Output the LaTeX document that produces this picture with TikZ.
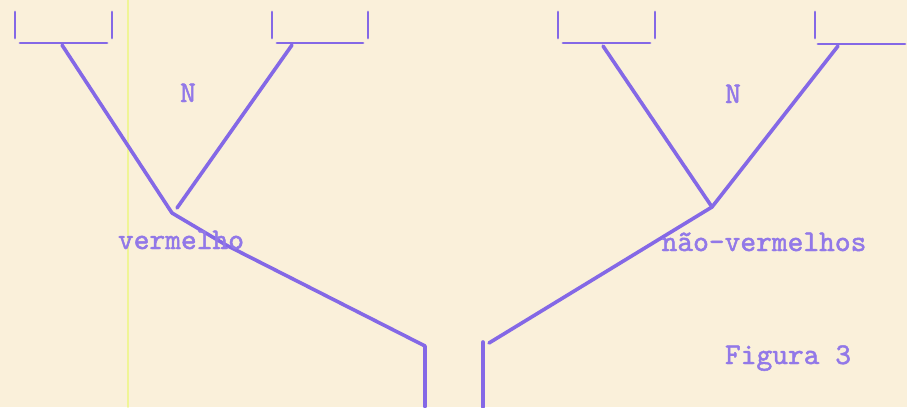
\documentclass[tikz,border=0pt]{standalone}
\usepackage{fontspec}
\newfontfamily\maquina[FakeBold=1.6]{lmmono10-regular.otf}
\usepackage{tikz}
\usetikzlibrary{positioning}
\definecolor{papel}{RGB}{250,240,218}
\definecolor{tinta}{RGB}{132,104,230}
\definecolor{tintaclara}{RGB}{146,120,232}
\definecolor{margem}{RGB}{240,245,150}

\begin{document}
\begin{tikzpicture}[x=1pt, y=-1pt, line cap=round, line join=round,
    traco/.style={draw=tinta, line width=3.6pt},
    fino/.style={draw=tinta, line width=2.8pt},
    texto/.style={font=\fontsize{30}{30}\selectfont\maquina, text=tintaclara, inner sep=0pt, anchor=base}]
\fill[papel] (0,0) rectangle (907,407);
\useasboundingbox (0,0) rectangle (907,407);
\draw[margem, line width=1.6pt] (128,0) -- (128,407);

% caixas no topo
\foreach \a/\b in {15/112, 272/368, 558/655} {
  \draw[fino] (\a,12) -- (\a,38);
  \draw[fino] (\b,12) -- (\b,38);
  \draw[fino] (\a+5,43) -- (\b-5,43);
}
\draw[fino] (815,12) -- (815,38);
\draw[fino] (818,44) -- (905,44);

% pontos
\coordinate (topo1) at (62,45);
\coordinate (topo2) at (292,45);
\coordinate (topo3) at (603,46);
\coordinate (topo4) at (838,46);
\coordinate (vesq) at (172,213);
\coordinate (vesq2) at (177,208);
\coordinate (vdir) at (712,207);
\coordinate (dobra) at (226,245);
\coordinate (pe1) at (425,346);
\coordinate (pe2) at (483,342);
\coordinate (pe3) at (489,343);
\coordinate (base1) at (425,407);
\coordinate (base2) at (483,407);

% ramo esquerdo
\draw[traco] (topo1) -- (vesq);
\draw[traco] (topo2) -- (vesq2);
\draw[traco] (vesq) -- (dobra) -- (pe1) -- (base1);

% ramo direito
\draw[traco] (topo3) -- (vdir);
\draw[traco] (topo4) -- (vdir);
\draw[traco] (vdir) -- (pe3);
\draw[traco] (pe2) -- (base2);

\node[texto] (n1) at (188,102) {N};
\node[texto] (n2) at (733,103) {N};
\node[texto] (verm) at (181,249) {vermelho};
\node[texto] (nverm) at (764,251) {não-vermelhos};
\node[texto] (fig) at (788,364) {Figura 3};
\end{tikzpicture}
\end{document}
